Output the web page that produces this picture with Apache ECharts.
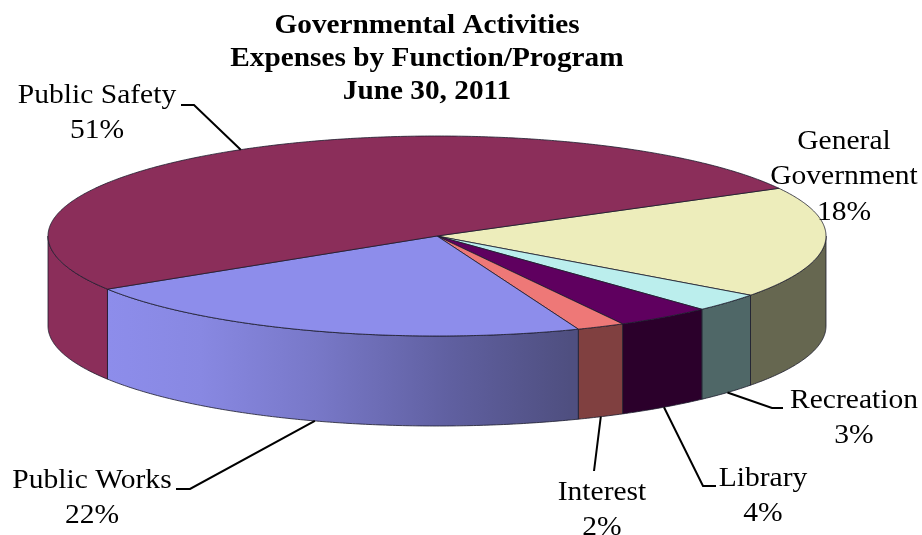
<!DOCTYPE html>
<html>
<head>
<meta charset="utf-8">
<style>html,body{margin:0;padding:0;background:#fff}#chart{width:922px;height:535px}</style>
<script src="https://cdn.jsdelivr.net/npm/echarts@6/dist/echarts.min.js"></script>
</head>
<body>
<div id="chart"></div>
<script>
// Expense shares, clockwise from the top right of the disc
const categories = ['General\nGovernment', 'Recreation', 'Library', 'Interest', 'Public Works', 'Public Safety'];
const shares = [18, 3, 4, 2, 22, 51];
const topColors = ['#EDEDBB', '#BBEEED', '#5F005F', '#EE7877', '#8D8DEB', '#8B2E5A'];
const wallColors = ['#666750', '#4F6767', '#2B002B', '#804040', null, '#8B2E5A'];
const titleLines = ['Governmental Activities', 'Expenses by Function/Program', 'June 30, 2011'];

// Disc geometry, in pixels
const CX = 437, CY = 236, RX = 389, RY = 100, DEPTH = 90, START_DEG = -28.5;
// Label centres and leader elbows per slice (same order as categories)
const labelCentres = [[844, 177], [854, 418], [763, 496], [602, 510], [92, 498], [97, 113]];
const leaderElbows = [null, [[772, 408], [783, 408]], [[703, 486], [716, 486]], [[594, 471]], [[190, 489], [176, 489]], [[194, 105], [181, 105]]];
// The lettering runs a little wide
const TEXT_STRETCH = 1.055;

const total = shares.reduce((a, b) => a + b, 0);
const sliceRange = i => {
  const before = shares.slice(0, i).reduce((a, b) => a + b, 0);
  return [START_DEG + before / total * 360, START_DEG + (before + shares[i]) / total * 360];
};
const rimPoint = (deg, drop) => {
  const t = deg * Math.PI / 180;
  return [CX + RX * Math.cos(t), CY + RY * Math.sin(t) + drop];
};
const arc = (a, b, drop) => {
  const pts = [];
  const n = Math.max(2, Math.ceil(Math.abs(b - a) * 2));
  for (let k = 0; k <= n; k++) pts.push(rimPoint(a + (b - a) * k / n, drop));
  return pts;
};

// Public Works wall shades from the lit left side to the dark right side
const worksGradient = {
  type: 'linear', x: 108, y: 0, x2: 570, y2: 0, global: true,
  colorStops: [
    { offset: 0, color: '#8D8DEB' },
    { offset: 0.2, color: '#8888E2' },
    { offset: 0.45, color: '#7878C8' },
    { offset: 0.75, color: '#5F5F9F' },
    { offset: 1, color: '#4F4F80' }
  ]
};

// Outer wall: only the part of each slice facing the viewer (0..180 degrees)
function renderWall(params) {
  const i = params.dataIndex;
  const [s, e] = sliceRange(i);
  const parts = [];
  [[s, e], [s + 360, e + 360], [s - 360, e - 360]].forEach(([a, b]) => {
    const from = Math.max(a, 0), to = Math.min(b, 180);
    if (to <= from) return;
    parts.push({
      type: 'polygon',
      shape: { points: arc(from, to, 0).concat(arc(to, from, DEPTH)) },
      style: { fill: wallColors[i] || worksGradient, stroke: '#1c1c2c', lineWidth: 0.8 }
    });
  });
  return { type: 'group', children: parts };
}

// Top face of a slice
function renderTop(params) {
  const i = params.dataIndex;
  const [s, e] = sliceRange(i);
  return {
    type: 'polygon',
    shape: { points: [[CX, CY]].concat(arc(s, e, 0)) },
    style: { fill: topColors[i], stroke: '#1c1c2c', lineWidth: 0.8 }
  };
}

// Category and percentage text, with a leader down to the slice's mid angle
function renderLabel(params, api) {
  const i = params.dataIndex;
  const [s, e] = sliceRange(i);
  const mid = (s + e) / 2;
  const children = [{
    type: 'text',
    x: labelCentres[i][0], y: labelCentres[i][1], scaleX: TEXT_STRETCH,
    style: {
      text: categories[i] + '\n' + api.value(0) + '%',
      x: 0, y: 0,
      align: 'center', verticalAlign: 'middle',
      fontFamily: '"Liberation Serif"', fontSize: 28, lineHeight: 35.5, fill: '#000'
    }
  }];
  if (leaderElbows[i]) {
    const frontFacing = Math.sin(mid * Math.PI / 180) > 0;
    children.push({
      type: 'polyline',
      shape: { points: [rimPoint(mid, frontFacing ? DEPTH : 0)].concat(leaderElbows[i]) },
      style: { fill: 'none', stroke: '#000', lineWidth: 2 }
    });
  }
  return { type: 'group', children };
}

const rows = shares.map(v => [v]);
const chart = echarts.init(document.getElementById('chart'), null, { renderer: 'canvas' });
chart.setOption({
  animation: false,
  backgroundColor: '#fff',
  graphic: [{
    type: 'text',
    x: 427, y: 59.5, scaleX: 1.085, z: 10,
    style: {
      text: titleLines.join('\n'),
      align: 'center', verticalAlign: 'middle',
      fontFamily: '"Liberation Serif"', fontWeight: 'bold', fontSize: 27, lineHeight: 33, fill: '#000'
    }
  }],
  series: [
    { type: 'custom', coordinateSystem: 'none', z: 1, data: rows, renderItem: renderWall, silent: true },
    { type: 'custom', coordinateSystem: 'none', z: 2, data: rows, renderItem: renderTop, silent: true },
    { type: 'custom', coordinateSystem: 'none', z: 3, data: rows, renderItem: renderLabel, silent: true }
  ]
});
</script>
</body>
</html>
